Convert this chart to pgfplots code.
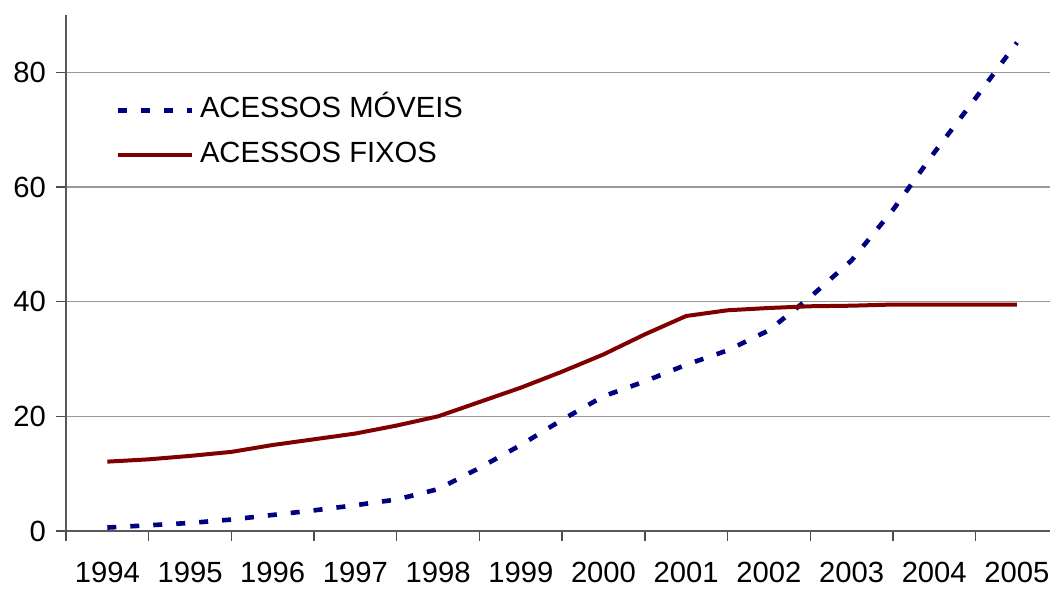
\documentclass[border=0pt]{standalone}
\usepackage{fontspec}
\setmainfont{Liberation Sans}
\usepackage{pgfplots}
\usepackage{pgfplotstable}
\pgfplotsset{compat=1.18}

\definecolor{movel}{HTML}{000080}
\definecolor{fixo}{HTML}{800000}

% acessos (milhoes), valores semestrais
\pgfplotstableread{
ano    movel fixo
1994.0  0.6  12.1
1994.5  1.0  12.5
1995.0  1.4  13.1
1995.5  2.0  13.8
1996.0  2.8  15.0
1996.5  3.6  16.0
1997.0  4.5  17.0
1997.5  5.5  18.4
1998.0  7.3  20.0
1998.5 11.0  22.5
1999.0 15.0  25.0
1999.5 19.4  27.8
2000.0 23.5  30.8
2000.5 26.1  34.3
2001.0 29.0  37.5
2001.5 31.5  38.5
2002.0 35.0  38.9
2002.5 40.8  39.2
2003.0 47.2  39.3
2003.5 56.0  39.5
2004.0 66.0  39.5
2004.5 75.5  39.5
2005.0 85.2  39.5
}\acessos

\begin{document}
\begin{tikzpicture}
\useasboundingbox (-33pt,-30pt) rectangle (492pt,265.5pt);
\begin{axis}[
  scale only axis,
  width=492pt, height=258pt,
  xmin=0, xmax=11.9,
  ymin=0, ymax=90,
  axis lines=left,
  axis line style={-, draw=black!65, line width=0.7pt},
  tick align=outside,
  tick style={draw=black!70, line width=0.7pt},
  major tick length=5pt,
  xtick={0,...,11},
  xticklabels={},
  extra x ticks={0.5,1.5,...,11.5},
  extra x tick labels={1994,1995,1996,1997,1998,1999,2000,2001,2002,2003,2004,2005},
  extra x tick style={major tick length=0pt, xticklabel style={yshift=-12pt}},
  ytick={0,20,40,60,80},
  ymajorgrids,
  major grid style={draw=black!40, line width=0.7pt},
  /pgf/number format/assume math mode=true,
  tick label style={font=\fontsize{14.6pt}{17pt}\selectfont},
  yticklabel style={xshift=-1.5pt},
  legend cell align=left,
  legend style={at={(rel axis cs:0.0498,0.841)}, anchor=north west,
    draw=none, fill=none, inner sep=0pt, row sep=9.5pt, column sep=3pt,
    font=\fontsize{14.6pt}{17pt}\selectfont,
    nodes={inner sep=0pt, text height=10pt, text depth=3pt}},
  legend image code/.code={\draw[#1] (0pt,0pt) -- (37pt,0pt);},
]
\addplot[movel, line width=2.3pt, dash pattern=on 4.5pt off 7pt]
  table[x expr=\thisrow{ano}-1993.5, y=movel] {\acessos};
\addlegendentry{ACESSOS MÓVEIS}
\addplot[fixo, line width=2pt, line join=round]
  table[x expr=\thisrow{ano}-1993.5, y=fixo] {\acessos};
\addlegendentry{ACESSOS FIXOS}
\end{axis}
\end{tikzpicture}
\end{document}
